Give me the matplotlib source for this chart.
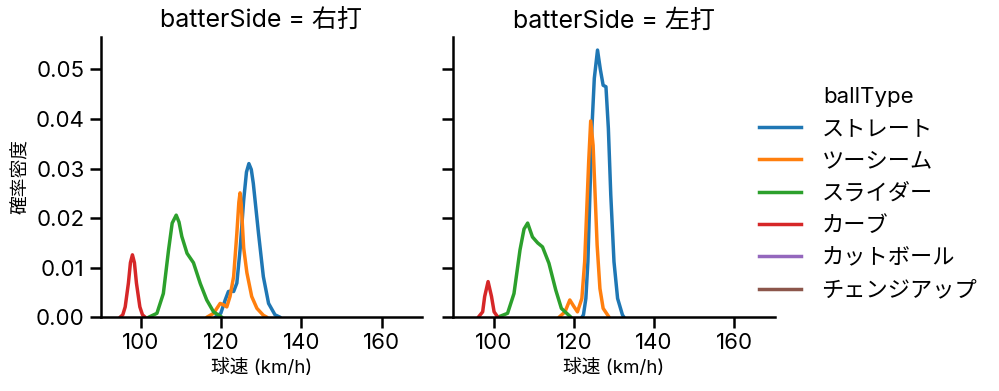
import matplotlib
matplotlib.use("Agg")
import matplotlib.pyplot as plt
from matplotlib.lines import Line2D

# Latin text in Inter, Japanese falls back to Noto Sans CJK JP
plt.rcParams['font.family'] = ['Inter', 'Noto Sans CJK JP', 'DejaVu Sans']

# Pitch types and colours
ball_types = ['ストレート', 'ツーシーム', 'スライダー', 'カーブ', 'カットボール', 'チェンジアップ']
colors = ['#1f77b4', '#ff7f0e', '#2ca02c', '#d62728', '#9467bd', '#8c564b']
sides = ['右打', '左打']

# Density curves (speed km/h, density)
r_straight_x = [118.5, 119.9, 121.0, 121.8, 122.5, 123.1, 123.9, 124.7, 125.6, 126.3, 126.9, 127.5, 128.0, 129.3, 130.5, 131.8, 133.4, 134.7]
r_straight_y = [0, 0.0008, 0.0035, 0.0052, 0.0053, 0.0052, 0.0069, 0.0136, 0.0236, 0.0293, 0.0310, 0.0298, 0.0270, 0.0169, 0.0082, 0.0028, 0.0005, 0]
r_twoseam_x = [116.4, 118.1, 119.75, 120.6, 121.4, 122.2, 123.1, 123.9, 124.4, 124.7, 125.0, 125.6, 126.4, 127.6, 128.9, 130.5, 131.4]
r_twoseam_y = [0, 0.0008, 0.0028, 0.0025, 0.0021, 0.0042, 0.0082, 0.0169, 0.0232, 0.0251, 0.0228, 0.0140, 0.0090, 0.0042, 0.0018, 0.0004, 0]
r_slider_x = [101.9, 104.0, 105.6, 106.9, 107.8, 108.8, 109.5, 110.2, 111.5, 113.1, 114.8, 116.4, 118.1, 120.2]
r_slider_y = [0, 0.0008, 0.0048, 0.0136, 0.0190, 0.0206, 0.0192, 0.0163, 0.0129, 0.0110, 0.0068, 0.0035, 0.0011, 0]
r_curve_x = [94.8, 95.5, 96.1, 96.9, 97.4, 97.9, 98.4, 98.9, 99.75, 100.4, 101.1]
r_curve_y = [0, 0.0005, 0.0021, 0.0069, 0.0110, 0.0126, 0.0110, 0.0069, 0.0021, 0.0005, 0]

l_straight_x = [122.0, 122.4, 123.0, 123.5, 124.0, 124.5, 125.1, 125.9, 126.6, 127.3, 128.0, 128.6, 129.2, 130.0, 130.9, 132.1, 132.5]
l_straight_y = [0, 0.0005, 0.0038, 0.0112, 0.0247, 0.0381, 0.0482, 0.0539, 0.0500, 0.0468, 0.0465, 0.0381, 0.0247, 0.0112, 0.0038, 0.0005, 0]
l_twoseam_x = [116.3, 117.8, 119.0, 120.0, 120.9, 122.0, 122.7, 123.2, 123.7, 124.2, 124.8, 125.3, 125.8, 126.5, 127.3, 128.8]
l_twoseam_y = [0, 0.0011, 0.0035, 0.0022, 0.0011, 0.0038, 0.0112, 0.0213, 0.0314, 0.0396, 0.0347, 0.0247, 0.0146, 0.0058, 0.0018, 0]
l_slider_x = [101.0, 103.5, 105.1, 106.6, 107.6, 108.5, 109.7, 111.0, 112.2, 113.8, 115.5, 116.9, 119.3]
l_slider_y = [0, 0.0008, 0.0048, 0.0136, 0.0178, 0.0190, 0.0162, 0.0150, 0.0142, 0.0109, 0.0055, 0.0018, 0]
l_curve_x = [96.2, 97.3, 97.8, 98.65, 99.5, 100.15, 101.1]
l_curve_y = [0, 0.0011, 0.0042, 0.0072, 0.0042, 0.0011, 0]

curves = {
    '右打': [(r_straight_x, r_straight_y), (r_twoseam_x, r_twoseam_y), (r_slider_x, r_slider_y), (r_curve_x, r_curve_y)],
    '左打': [(l_straight_x, l_straight_y), (l_twoseam_x, l_twoseam_y), (l_slider_x, l_slider_y), (l_curve_x, l_curve_y)],
}

x_ticks = [100, 120, 140, 160]
y_ticks = [0.0, 0.01, 0.02, 0.03, 0.04, 0.05]

fig = plt.figure(figsize=(9.99, 3.91), dpi=100)
ax_l = fig.add_axes([0.1008, 0.1885, 0.3216, 0.7177])
ax_r = fig.add_axes([0.4538, 0.1885, 0.3216, 0.7177], sharey=ax_l)

for ax, side in zip([ax_l, ax_r], sides):
    for (xs, ys), c in zip(curves[side], colors):
        ax.plot(xs, ys, color=c, lw=2.5, solid_joinstyle='round', solid_capstyle='round')
    ax.set_xlim(90, 170)
    ax.set_ylim(0, 0.0566)
    ax.set_xticks(x_ticks)
    ax.set_yticks(y_ticks)
    ax.spines['top'].set_visible(False)
    ax.spines['right'].set_visible(False)
    ax.spines['left'].set_linewidth(1.8)
    ax.spines['bottom'].set_linewidth(1.8)
    ax.tick_params(labelsize=16, width=1.8, length=8)
    ax.set_title(f'batterSide = {side}', fontsize=18)
    ax.set_xlabel('球速 (km/h)', fontsize=13.5)

ax_l.set_yticklabels([f'{v:.2f}' for v in y_ticks])
ax_l.set_ylabel('確率密度', fontsize=13.5)
ax_r.tick_params(labelleft=False)

# Legend with every pitch type, title centred like seaborn
handles = [Line2D([], [], color=c, lw=2.5) for c in colors]
leg = fig.legend(handles, ball_types, title='ballType', loc='center left',
                 bbox_to_anchor=(0.740, 0.505), frameon=False, fontsize=16,
                 title_fontsize=16, handlelength=1.9, handletextpad=0.9,
                 labelspacing=0.55)

fig.savefig('out.png', dpi=100)
